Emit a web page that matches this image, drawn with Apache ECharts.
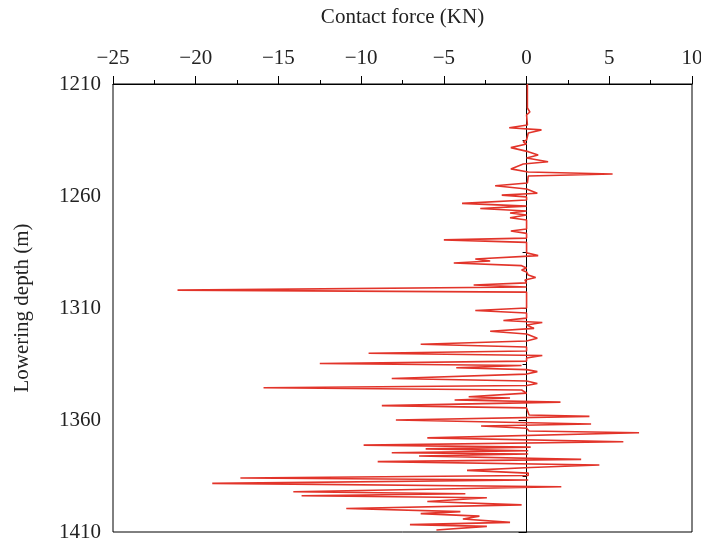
<!DOCTYPE html>
<html>
<head>
<meta charset="utf-8">
<script src="https://cdn.jsdelivr.net/npm/echarts@6/dist/echarts.min.js"></script>
<style>
html,body{margin:0;padding:0;background:#fff;}
#chart{width:701px;height:543px;}
</style>
</head>
<body>
<div id="chart"></div>
<script>
// Lowering depth (m), top to bottom
var depth = [1210,1220.7,1222.5,1223.8,1228.3,1229.5,1230.5,1231.9,1235,1235.8,1236.8,1238.4,1240.2,1241.7,1243,1244.7,1245.7,1247.9,1249.3,1250.2,1251.1,
  1254.2,1255.4,1256.9,1258.8,1259.6,1260.4,1261.8,1263.3,1264.5,1265.6,1266.7,1267.6,1268.5,1269.7,1270.7,1274.7,1275.6,1276.7,1278.8,1279.6,1280.7,
  1285.4,1286.6,1288.1,1289,1289.9,1291.1,1292.1,1293,1293.9,1295.3,1296.4,1297.5,1298.8,1299.7,1300.6,1302,1302.9,
  1310,1311.1,1312.2,1314.5,1315.6,1316.5,1317.6,1319.1,1320.4,1321.6,1323.5,1324.7,1326.2,1327.4,1329.2,1330.2,1331.2,1332.3,
  1333.7,1334.8,1335.7,1336.7,1337.5,1338.4,1339.5,1341.5,1342.6,1343.7,1344.6,1345.6,1346.6,1348,1349.6,1350.2,1351.1,1352,1353.6,1354.6,
  1357.8,1358.4,1360,1361.8,1362.7,1363.7,1364.9,1365.7,1368,1369.7,1371.2,1372.1,1372.9,1373.7,1374.6,1375.2,1376.1,1377.6,1378.6,1380.1,
  1381.2,1382.5,1383.7,1384.8,1385.9,1386.8,1388.3,1389.8,1392,1392.9,1393.8,1394.7,1396.4,1397.9,1399.5,1400.9,1401.8,1402.9,1404.2,
  1405.7,1406.7,1407.5,1409.1];
// Contact force (KN)
var force = [0.05,0.05,0.2,0.0,0.05,-1.05,0.9,0.1,0.0,-0.2,0.0,-0.95,0.1,0.7,0.0,1.3,-0.2,-0.95,0.1,5.2,0.1,
  0.05,-1.9,0.0,0.65,-1.5,0.0,0.0,-3.9,0.0,-2.8,0.0,-1.0,0.0,-1.0,0.0,0.0,-0.95,0.0,0.0,-5.0,0.0,
  0.0,0.7,-3.1,-2.2,-4.4,-0.3,0.0,-0.3,0.0,0.1,0.55,-0.1,0.0,-3.2,0.0,-21.1,0.0,
  0.0,-3.1,0.0,0.0,-1.4,0.95,0.0,0.45,-2.2,0.0,0.65,0.0,-6.4,0.0,0.0,-9.55,0.95,0.0,
  0.0,-12.5,-0.3,-4.25,0.0,0.65,0.0,-8.15,0.0,0.65,0.0,-15.9,-0.3,0.0,-3.5,-1.0,-4.35,2.05,-8.75,0.0,
  0.15,3.8,-7.9,3.9,-2.75,0.0,0.15,6.8,-6.0,5.85,-9.85,0.25,-6.1,0.1,-8.15,0.1,-6.5,3.3,-9.0,4.4,
  0.25,-3.6,0.1,0.1,-17.3,0.1,-19.0,2.1,-14.1,-3.7,-13.6,-2.4,-6.0,-0.3,-10.9,-4.0,-6.4,-2.85,-3.85,
  -1.0,-7.05,-2.4,-5.45];
var xTicks = {min: -25, max: 10, step: 5};
var yTicks = {min: 1210, max: 1410, step: 50};

var pts = depth.map(function (d, i) { return [force[i], d]; });
function fmt(v) { return v < 0 ? '\u2212' + Math.abs(v) : String(v); }
var font = 'Liberation Serif';

var chart = echarts.init(document.getElementById('chart'), null, {renderer: 'canvas'});
chart.setOption({
  animation: false,
  backgroundColor: '#fff',
  grid: {left: 113, right: 9, top: 84, bottom: 11, containLabel: false, outerBoundsMode: 'none',
         show: true, borderColor: '#000', borderWidth: 1, backgroundColor: 'transparent'},
  xAxis: {
    type: 'value', position: 'top', min: xTicks.min, max: xTicks.max, interval: xTicks.step,
    name: 'Contact force (KN)', nameLocation: 'middle', nameGap: 56,
    nameTextStyle: {fontFamily: font, fontSize: 21, color: '#222'},
    axisLine: {show: true, lineStyle: {color: '#000', width: 1}},
    axisTick: {show: true, inside: false, length: 8, lineStyle: {color: '#000'}},
    minorTick: {show: true, splitNumber: 2, length: 4, lineStyle: {color: '#000'}},
    splitLine: {show: false},
    axisLabel: {fontFamily: font, fontSize: 21, color: '#222', margin: 15, formatter: fmt}
  },
  yAxis: {
    type: 'value', inverse: true, min: yTicks.min, max: yTicks.max, interval: yTicks.step,
    name: 'Lowering depth (m)', nameLocation: 'middle', nameGap: 80,
    nameTextStyle: {fontFamily: font, fontSize: 21, color: '#222'},
    axisLine: {show: true, lineStyle: {color: '#000', width: 1}},
    axisTick: {show: true, inside: false, length: 8, lineStyle: {color: '#000'}},
    minorTick: {show: true, splitNumber: 2, length: 4, lineStyle: {color: '#000'}},
    splitLine: {show: false},
    axisLabel: {fontFamily: font, fontSize: 21, color: '#222', margin: 12, formatter: fmt}
  },
  series: [{
    type: 'line', data: pts, showSymbol: false, symbol: 'none',
    lineStyle: {color: '#e2342a', width: 1.6}
  }]
});
</script>
</body>
</html>
